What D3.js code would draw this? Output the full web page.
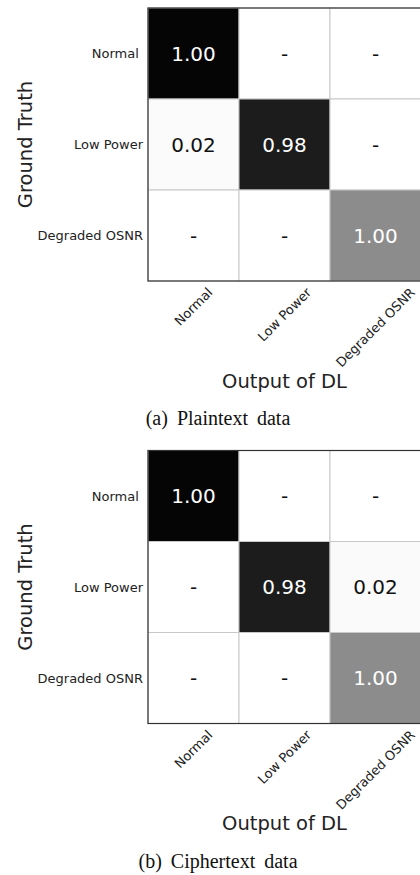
<!DOCTYPE html>
<html>
<head>
<meta charset="utf-8">
<script src="https://cdn.jsdelivr.net/npm/d3@7"></script>
<style>
  body { margin: 0; background: #fff; }
  svg { display: block; }
  .tick text { font-family: 'DejaVu Sans', sans-serif; fill: #222; }
</style>
</head>
<body>
<div id="chart"></div>
<script>
// classes, same order on both axes
const outputLabels = ['Normal', 'Low Power', 'Degraded OSNR'];
const truthLabels = ['Normal\u00a0', 'Low Power', 'Degraded OSNR'];

// (a) plaintext: shown values and cell shade (0 = white, 1 = black)
const plainValues = [
  [1.00, 0, 0],
  [0.02, 0.98, 0],
  [0, 0, 1.00]
];
const plainShade = [
  [0.98, 0, 0],
  [0.016, 0.89, 0],
  [0, 0, 0.45]
];

// (b) ciphertext
const cipherValues = [
  [1.00, 0, 0],
  [0, 0.98, 0.02],
  [0, 0, 1.00]
];
const cipherShade = [
  [0.98, 0, 0],
  [0, 0.89, 0.02],
  [0, 0, 0.45]
];

const captions = ['(a) Plaintext data', '(b) Ciphertext data'];

const width = 420;
const height = 875;
const left = 148;
const size = 273;
const panelTops = [8, 450.5];
const tickFont = 13;

const svg = d3.select('#chart').append('svg')
  .attr('width', width)
  .attr('height', height);

const color = d3.scaleLinear().domain([0, 1]).range(['#ffffff', '#000000']);

function drawPanel(top, values, shade, caption) {
  const x = d3.scaleBand().domain(d3.range(3)).range([left, left + size]);
  const y = d3.scaleBand().domain(d3.range(3)).range([top, top + size]);

  const cells = [];
  values.forEach((row, i) => row.forEach((v, j) => {
    cells.push({ i: i, j: j, v: v, s: shade[i][j] });
  }));

  const g = svg.append('g');

  g.selectAll('rect.cell')
    .data(cells).enter()
    .append('rect')
    .attr('class', 'cell')
    .attr('x', d => x(d.j))
    .attr('y', d => y(d.i))
    .attr('width', x.bandwidth())
    .attr('height', y.bandwidth())
    .attr('fill', d => color(d.s))
    .attr('stroke', '#c8c8c8')
    .attr('stroke-width', 1);

  g.selectAll('text.val')
    .data(cells).enter()
    .append('text')
    .attr('class', 'val')
    .attr('x', d => x(d.j) + x.bandwidth() / 2)
    .attr('y', d => y(d.i) + y.bandwidth() / 2)
    .attr('dy', '0.36em')
    .attr('text-anchor', 'middle')
    .style('font-family', "'DejaVu Sans', sans-serif")
    .style('font-size', '20px')
    .style('fill', d => d.s > 0.4 ? '#fff' : '#111')
    .text(d => d.v === 0 ? '-' : d3.format('.2f')(d.v));

  // frame
  g.append('rect')
    .attr('x', left)
    .attr('y', top)
    .attr('width', size)
    .attr('height', size)
    .attr('fill', 'none')
    .attr('stroke', '#333')
    .attr('stroke-width', 1.2);

  // row labels
  const yAxis = d3.axisLeft(y).tickSize(0).tickPadding(5)
    .tickFormat(i => truthLabels[i]);
  const ya = g.append('g')
    .attr('transform', `translate(${left},0)`)
    .call(yAxis);
  ya.select('.domain').remove();
  ya.selectAll('text')
    .style('font-size', tickFont + 'px')
    .attr('dy', '0.36em');

  // column labels, rotated 45 and centred under each column
  const xAxis = d3.axisBottom(x).tickSize(0)
    .tickFormat(i => outputLabels[i]);
  const xa = g.append('g')
    .attr('transform', `translate(0,${top + size})`)
    .call(xAxis);
  xa.select('.domain').remove();
  xa.selectAll('text')
    .style('font-size', tickFont + 'px')
    .attr('y', 0)
    .attr('dy', null)
    .attr('text-anchor', 'middle')
    .attr('dominant-baseline', 'central')
    .attr('transform', function() {
      const len = this.getComputedTextLength();
      const off = 4 + (len + 14.5) * 0.3536;
      return `translate(0,${off}) rotate(-45)`;
    });

  // axis titles
  g.append('text')
    .attr('transform', `translate(32.3,${top + size / 2}) rotate(-90)`)
    .attr('text-anchor', 'middle')
    .style('font-family', "'DejaVu Sans', sans-serif")
    .style('font-size', '19.5px')
    .style('fill', '#222')
    .text('Ground Truth');

  g.append('text')
    .attr('x', left + size / 2)
    .attr('y', top + size + 106.5)
    .attr('text-anchor', 'middle')
    .style('font-family', "'DejaVu Sans', sans-serif")
    .style('font-size', '19.5px')
    .style('fill', '#222')
    .text('Output of DL');

  g.append('text')
    .attr('x', 218)
    .attr('y', top + size + 144)
    .attr('text-anchor', 'middle')
    .style('font-family', "'Liberation Serif', 'Times New Roman', serif")
    .style('font-size', '20px')
    .style('word-spacing', '4px')
    .style('fill', '#111')
    .text(caption);
}

drawPanel(panelTops[0], plainValues, plainShade, captions[0]);
drawPanel(panelTops[1], cipherValues, cipherShade, captions[1]);
</script>
</body>
</html>
